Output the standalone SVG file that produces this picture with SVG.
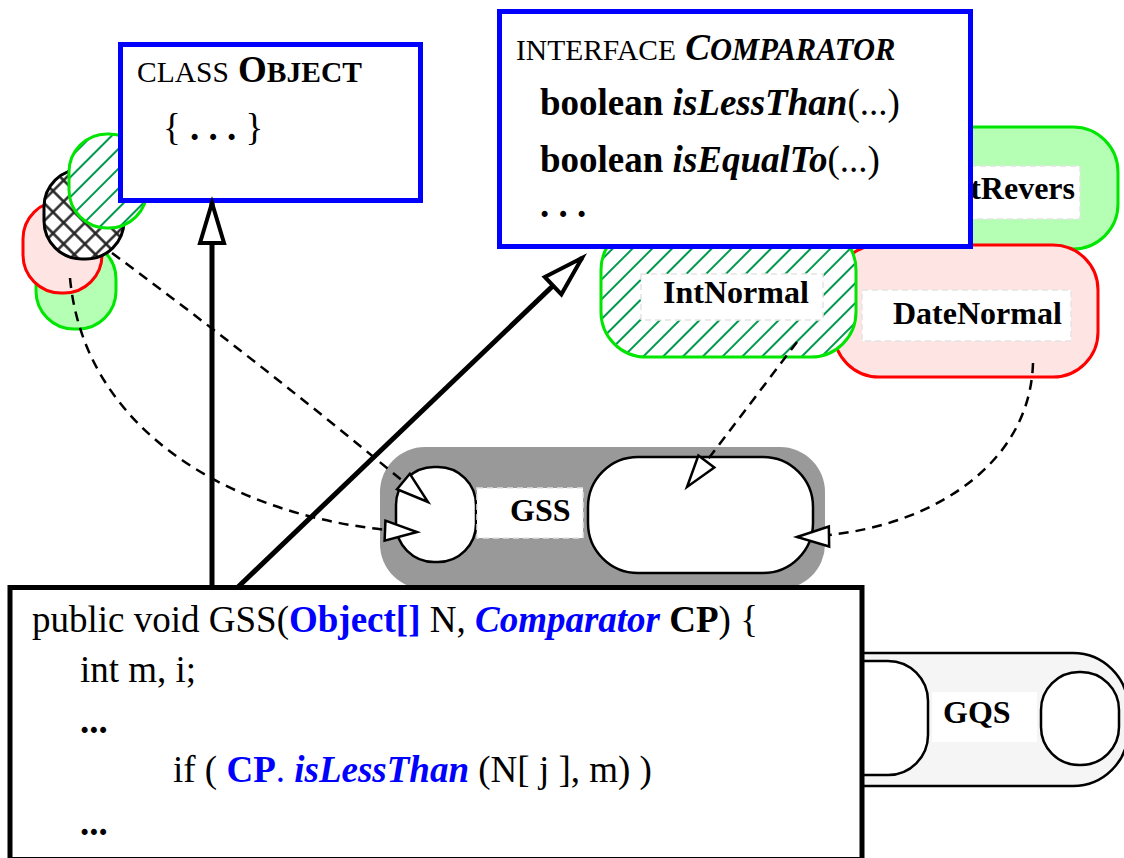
<svg xmlns="http://www.w3.org/2000/svg" width="1124" height="858" viewBox="0 0 1124 858">
  <style>
    text { font-family: "Liberation Serif", "Times New Roman", serif; fill: #000; }
    .t37 { font-size: 37px; }
    .sc { font-size: 29.5px; }
    .sc2 { font-size: 30.5px; }
    .b { font-weight: bold; }
    .i { font-style: italic; }
    .blue { fill: #0000ff; }
    .lab { font-size: 32px; font-weight: bold; }
    .box { fill: #fff; stroke: #0000ff; stroke-width: 5; }
    .code { fill: #fff; stroke: #000; stroke-width: 5; }
    .greenFill { fill: #b4ffb4; stroke: #00e600; stroke-width: 3; }
    .pinkFill { fill: #ffe4e4; stroke: #ff0000; stroke-width: 3; }
    .greenHatch { fill: url(#hatchGreen); stroke: #00e600; stroke-width: 3; }
    .cross { fill: url(#crossHatch); stroke: #000; stroke-width: 3; }
    .inner { fill: #fff; stroke: #000; stroke-width: 2.5; }
    .lbl { fill: #fff; stroke: #e4e4e4; stroke-width: 1.5; stroke-dasharray: 6 4; }
    .solid { fill: none; stroke: #000; stroke-width: 5; }
    .dash { fill: none; stroke: #000; stroke-width: 2.5; stroke-dasharray: 10 7; }
  </style>
  <defs>
    <pattern id="hatchGreen" patternUnits="userSpaceOnUse" width="14" height="14" patternTransform="rotate(45)">
      <rect width="14" height="14" fill="#fff"/>
      <line x1="7" y1="0" x2="7" y2="14" stroke="#00994d" stroke-width="2"/>
    </pattern>
    <pattern id="crossHatch" patternUnits="userSpaceOnUse" width="15" height="15" patternTransform="rotate(45)">
      <rect width="15" height="15" fill="#fff"/>
      <path d="M7.5,0 V15 M0,7.5 H15" stroke="#222" stroke-width="2.4"/>
    </pattern>
    <marker id="headBig" markerUnits="userSpaceOnUse" markerWidth="50" markerHeight="34" refX="42" refY="14" orient="auto" overflow="visible">
      <path d="M2,2 L42,14 L2,26 Z" fill="#fff" stroke="#000" stroke-width="4"/>
    </marker>
    <marker id="headSmall" markerUnits="userSpaceOnUse" markerWidth="40" markerHeight="28" refX="34" refY="12" orient="auto" overflow="visible">
      <path d="M2,2 L34,12 L2,22 Z" fill="#fff" stroke="#000" stroke-width="2.5"/>
    </marker>
  </defs>

  <!-- left cluster of small instances -->
  <g id="inst-green"><rect class="greenFill" x="36" y="241" width="80" height="88" rx="38"/></g>
  <g id="inst-pink"><rect class="pinkFill" x="23" y="201" width="79" height="92" rx="38"/></g>
  <g id="inst-cross"><rect class="cross" x="44" y="169" width="80" height="90" rx="38"/></g>
  <g id="inst-hatch"><rect class="greenHatch" x="69" y="134" width="78" height="94" rx="38"/></g>

  <!-- class Object -->
  <g id="node-object">
    <rect class="box" x="120.5" y="44.5" width="300" height="156"/>
    <text class="t37" x="137" y="82"><tspan class="sc">CLASS</tspan> <tspan class="b">O</tspan><tspan class="b sc">BJECT</tspan></text>
    <text class="t37" x="163" y="140">{ <tspan class="b">. . .</tspan> }</text>
  </g>

  <!-- comparator implementations -->
  <g id="node-intrevers">
    <rect class="greenFill" x="880" y="127" width="238" height="122" rx="45"/>
    <rect class="lbl" x="940" y="166" width="140" height="53"/>
    <text class="lab" x="1075" y="199" text-anchor="end">IntRevers</text>
  </g>
  <g id="node-datenormal">
    <rect class="pinkFill" x="834" y="245" width="264" height="132" rx="45"/>
    <rect class="lbl" x="862" y="290" width="209" height="51"/>
    <text class="lab" x="893" y="324">DateNormal</text>
  </g>
  <g id="node-intnormal">
    <rect class="greenHatch" x="601" y="225" width="255" height="132" rx="45"/>
    <rect class="lbl" x="641" y="274" width="182" height="46"/>
    <text class="lab" x="663" y="303">IntNormal</text>
  </g>

  <!-- interface Comparator -->
  <g id="node-comparator">
    <rect class="box" x="499.5" y="11.5" width="471" height="235"/>
    <text class="t37" x="516" y="60"><tspan class="sc">INTERFACE</tspan> <tspan class="b i">C</tspan><tspan class="b i sc2">OMPARATOR</tspan></text>
    <text class="t37" x="540" y="115"><tspan class="b">boolean </tspan><tspan class="b i">isLessThan</tspan>(...)</text>
    <text class="t37" x="540" y="172"><tspan class="b">boolean </tspan><tspan class="b i">isEqualTo</tspan>(...)</text>
    <text class="t37 b" x="540" y="217">. . .</text>
  </g>

  <!-- GSS component -->
  <g id="node-gss">
    <rect x="380" y="447" width="445" height="142" rx="45" fill="#999"/>
    <rect class="inner" x="396" y="467" width="80" height="95" rx="38"/>
    <rect class="inner" x="588" y="457" width="225" height="116" rx="50"/>
    <rect class="lbl" x="477" y="488" width="106" height="50"/>
    <text class="lab" x="510" y="521">GSS</text>
  </g>

  <!-- GQS component -->
  <g id="node-gqs">
    <rect x="800" y="653" width="328" height="133" rx="55" fill="#f5f5f5" stroke="#000" stroke-width="2.5"/>
    <rect class="inner" x="820" y="661" width="108" height="114" rx="40"/>
    <rect class="inner" x="1041" y="672" width="78" height="93" rx="38"/>
    <rect x="932" y="692" width="105" height="50" fill="#fff"/>
    <text class="lab" x="943" y="723">GQS</text>
  </g>

  <!-- GSS source code -->
  <g id="node-code">
    <rect class="code" x="10" y="587.5" width="852" height="272"/>
    <text class="t37" x="32" y="632">public void GSS(<tspan class="b blue">Object[]</tspan> N, <tspan class="b i blue">Comparator</tspan> <tspan class="b">CP</tspan>) {</text>
    <text class="t37" x="80" y="682">int m, i;</text>
    <text class="t37 b" x="80" y="733">...</text>
    <text class="t37" x="173" y="782">if ( <tspan class="b blue">CP</tspan><tspan class="blue">.</tspan> <tspan class="b i blue">isLessThan</tspan> (N[ j ], m) )</text>
    <text class="t37 b" x="80" y="835">...</text>
  </g>

  <!-- connectors -->
  <g id="connectors">
    <path class="solid" d="M212,587 L212,203" marker-end="url(#headBig)"/>
    <path class="solid" d="M238,587 L582,258" marker-end="url(#headBig)"/>
    <path class="dash" d="M112,253 Q270,370 428,502" marker-end="url(#headSmall)"/>
    <path class="dash" d="M70,278 C85,440 250,525 417,532" marker-end="url(#headSmall)"/>
    <path class="dash" d="M797,342 L687,487" marker-end="url(#headSmall)"/>
    <path class="dash" d="M1033,363 C1030,470 920,535 797,537" marker-end="url(#headSmall)"/>
  </g>
</svg>
